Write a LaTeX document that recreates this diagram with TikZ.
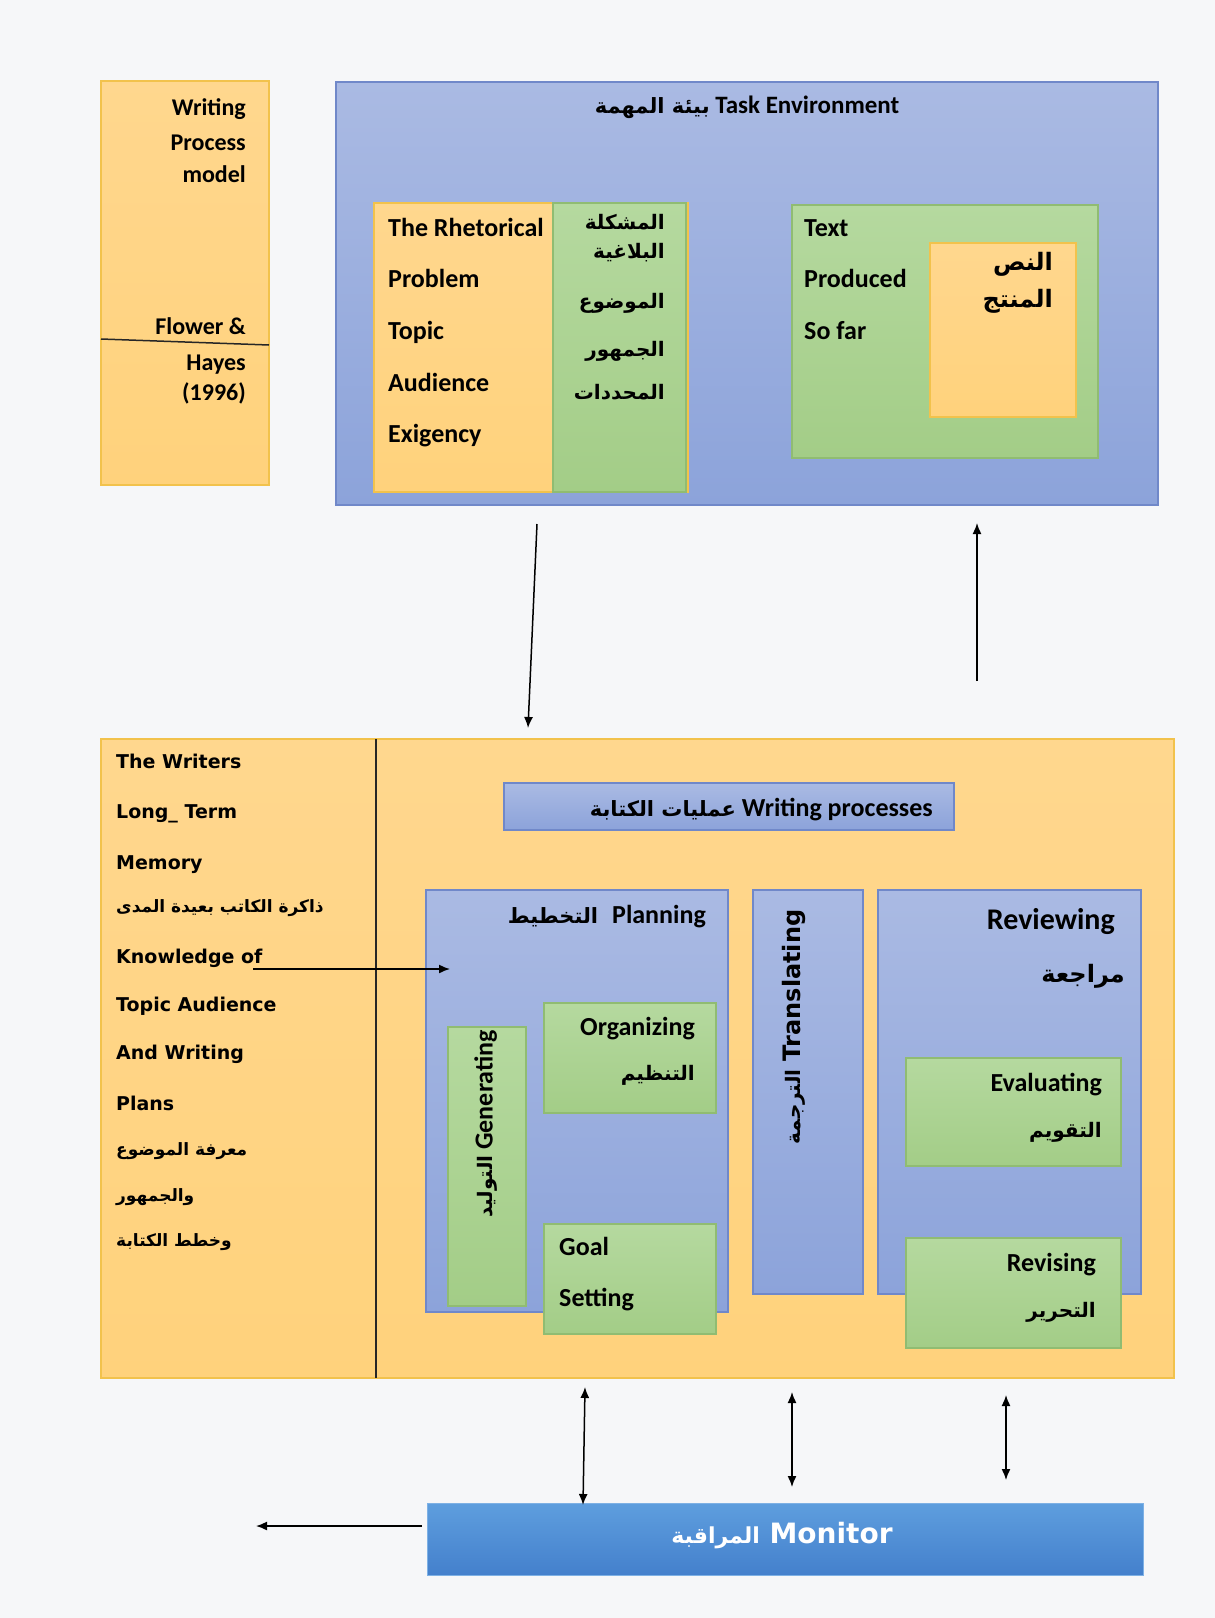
\documentclass[tikz,border=0pt]{standalone}
\usepackage{fontspec}
\setmainfont{Carlito}
\newfontfamily\arabicfont[Script=Arabic]{DejaVu Sans}
\newfontfamily\dejavu{DejaVu Sans}
\TeXXeTstate=1
\usetikzlibrary{arrows.meta}

\definecolor{pagebg}{HTML}{F6F7F9}
\definecolor{orangeline}{HTML}{F2C24C}
\definecolor{orangetop}{HTML}{FFD78E}
\definecolor{orangebot}{HTML}{FFD27C}
\definecolor{blueline}{HTML}{7088C9}
\definecolor{bluetop}{HTML}{AABAE3}
\definecolor{bluebot}{HTML}{8CA3DA}
\definecolor{greenline}{HTML}{90BC72}
\definecolor{greentop}{HTML}{B5D99F}
\definecolor{greenbot}{HTML}{A3CD87}
\definecolor{montop}{HTML}{5E9EDE}
\definecolor{monbot}{HTML}{4480CC}

\newcommand\fsz[1]{\fontsize{#1}{#1}\selectfont}
\newcommand\artxt[2][20]{{\arabicfont\bfseries\fsz{#1}\beginR #2\endR}}

\begin{document}
\begin{tikzpicture}[x=1pt, y=-1pt,
  box/.style = {line width=1.5pt, inner sep=0pt, outer sep=0pt, anchor=north west},
  obox/.style = {box, draw=orangeline, top color=orangetop, bottom color=orangebot},
  bbox/.style = {box, draw=blueline, top color=bluetop, bottom color=bluebot},
  gbox/.style = {box, draw=greenline, top color=greentop, bottom color=greenbot},
  lbl/.style = {inner sep=0pt, font={\bfseries\fsz{26}}},
  wide/.style = {inner sep=0pt, font={\dejavu\bfseries\fsz{19}}},
  arr/.style = {-{Latex[length=11pt,width=9pt]}, line width=1.5pt},
  dblarr/.style = {{Latex[length=11pt,width=9pt]}-{Latex[length=11pt,width=9pt]}, line width=1.5pt}]

\fill[pagebg] (0,0) rectangle (1215,1618);
\useasboundingbox (0,0) rectangle (1215,1618);

% model title
\node[obox, minimum width=168pt, minimum height=404pt] (wpm) at (101,81) {};
\draw[line width=1.5pt, black!85] ([yshift=-258pt]wpm.north west) -- ([yshift=-264pt]wpm.north east);
\foreach \t/\y [count=\i] in {Writing/115, Process/150, model/182, Flower \&/334, Hayes/370, (1996)/400}
  \node[lbl, font={\bfseries\fsz{24}}, anchor=base east] (wpm\i) at (246,\y) {\t};

% task environment
\node[bbox, minimum width=822pt, minimum height=423pt] (te) at (336,82) {};
\node[lbl, font={\bfseries\fsz{25}}, anchor=base] (tetitle) at (747,113) {\artxt[21]{بيئة المهمة} Task Environment};

\node[obox, minimum width=314pt, minimum height=289pt] (rh) at (374,203) {};
\node[gbox, minimum width=133pt, minimum height=289pt] (rhar) at (553,203) {};
\foreach \t [count=\i] in {The Rhetorical, Problem, Topic, Audience, Exigency}
  \node[lbl, anchor=base west] (rh\i) at (388,236+51.7*\i-51.7) {\t};
\foreach \t/\y [count=\i] in {المشكلة/229, البلاغية/258, الموضوع/308, الجمهور/356, المحددات/399}
  \node[lbl, anchor=base east] (rhar\i) at (665,\y) {\artxt{\t}};

\node[gbox, minimum width=306pt, minimum height=253pt] (tp) at (792,205) {};
\node[obox, minimum width=146pt, minimum height=174pt] (tpar) at (930,243) {};
\foreach \t [count=\i] in {Text, Produced, So far}
  \node[lbl, anchor=base west] (tp\i) at (804,236+51.7*\i-51.7) {\t};
\node[lbl, anchor=base east] (tpar1) at (1053,270) {\artxt[24]{النص}};
\node[lbl, anchor=base east] (tpar2) at (1053,307) {\artxt[24]{المنتج}};

% arrows between environment and writer
\coordinate (down1) at (537,524);
\coordinate (down2) at (528,728);
\draw[arr] (down1) -- (down2);
\coordinate (up1) at (977,681);
\coordinate (up2) at (977,523);
\draw[arr] (up1) -- (up2);

% long term memory and writing processes
\node[obox, minimum width=1073pt, minimum height=639pt] (wlm) at (101,739) {};
\draw[line width=1.5pt, black!85] ([xshift=275pt]wlm.north west) -- ([xshift=275pt]wlm.south west);
\foreach \t/\y [count=\i] in {The Writers/768, Long\_ Term/818, Memory/869, Knowledge of/963, Topic Audience/1011, And Writing/1059, Plans/1110}
  \node[wide, anchor=base west] (lt\i) at (116,\y) {\t};
\foreach \t/\y [count=\i] in {ذاكرة الكاتب بعيدة المدى/912, معرفة الموضوع/1155, والجمهور/1201, وخطط الكتابة/1246}
  \node[wide, anchor=base west] (ltar\i) at (116,\y) {\artxt[17]{\t}};

\node[bbox, minimum width=450pt, minimum height=47pt] (wp) at (504,783) {};
\node[lbl, anchor=base east] (wptitle) at (933,816) {\artxt[21]{عمليات الكتابة} Writing processes};

\node[bbox, minimum width=302pt, minimum height=422pt] (pl) at (426,890) {};
\node[lbl, anchor=base east] (pltitle) at (706,923) {\artxt[21]{التخطيط}\hspace{14pt}Planning};
\node[gbox, minimum width=78pt, minimum height=279pt] (gen) at (448,1027) {};
\node[lbl, rotate=90] (gentitle) at (486,1124) {\artxt[20]{التوليد} Generating};
\node[gbox, minimum width=172pt, minimum height=110pt] (org) at (544,1003) {};
\node[lbl, anchor=base east] (org1) at (695,1035) {Organizing};
\node[lbl, anchor=base east] (org2) at (695,1080) {\artxt{التنظيم}};
\node[gbox, minimum width=172pt, minimum height=110pt] (goal) at (544,1224) {};
\node[lbl, anchor=base west] (goal1) at (559,1255) {Goal};
\node[lbl, anchor=base west] (goal2) at (559,1306) {Setting};

\node[bbox, minimum width=110pt, minimum height=404pt] (tr) at (753,890) {};
\node[wide, font={\dejavu\bfseries\fsz{24}}, rotate=90] (trtitle) at (794,1027) {\artxt[20]{الترجمة} Translating};

\node[bbox, minimum width=263pt, minimum height=404pt] (rv) at (878,890) {};
\node[lbl, font={\bfseries\fsz{30}}, anchor=base east] (rv1) at (1115,929) {Reviewing};
\node[lbl, anchor=base east] (rv2) at (1125,982) {\artxt[24]{مراجعة}};
\node[gbox, minimum width=215pt, minimum height=108pt] (ev) at (906,1058) {};
\node[lbl, anchor=base east] (ev1) at (1102,1091) {Evaluating};
\node[lbl, anchor=base east] (ev2) at (1102,1137) {\artxt{التقويم}};
\node[gbox, minimum width=215pt, minimum height=110pt] (rev) at (906,1238) {};
\node[lbl, anchor=base east] (rev1) at (1096,1271) {Revising};
\node[lbl, anchor=base east] (rev2) at (1096,1317) {\artxt{التحرير}};

% knowledge feeds planning
\coordinate (kfrom) at (253,969);
\coordinate (kto) at (450,969);
\draw[arr] (kfrom) -- (kto);

% monitor
\node[box, top color=montop, bottom color=monbot, draw=montop!80!white, line width=0.8pt,
      minimum width=716pt, minimum height=72pt] (mon) at (427,1503) {};
\node[inner sep=0pt, text=white, font={\dejavu\bfseries\fsz{28}}] (montitle) at (782,1536) {\artxt[22]{المراقبة} Monitor};
\coordinate (m1t) at (585,1387);
\coordinate (m1b) at (583,1505);
\coordinate (m2t) at (792,1392);
\coordinate (m2b) at (792,1487);
\coordinate (m3t) at (1006,1395);
\coordinate (m3b) at (1006,1480);
\foreach \k in {1,2,3}
  \draw[dblarr] (m\k t) -- (m\k b);
\coordinate (mfrom) at (422,1526);
\coordinate (mto) at (256,1526);
\draw[arr] (mfrom) -- (mto);
\end{tikzpicture}
\end{document}
